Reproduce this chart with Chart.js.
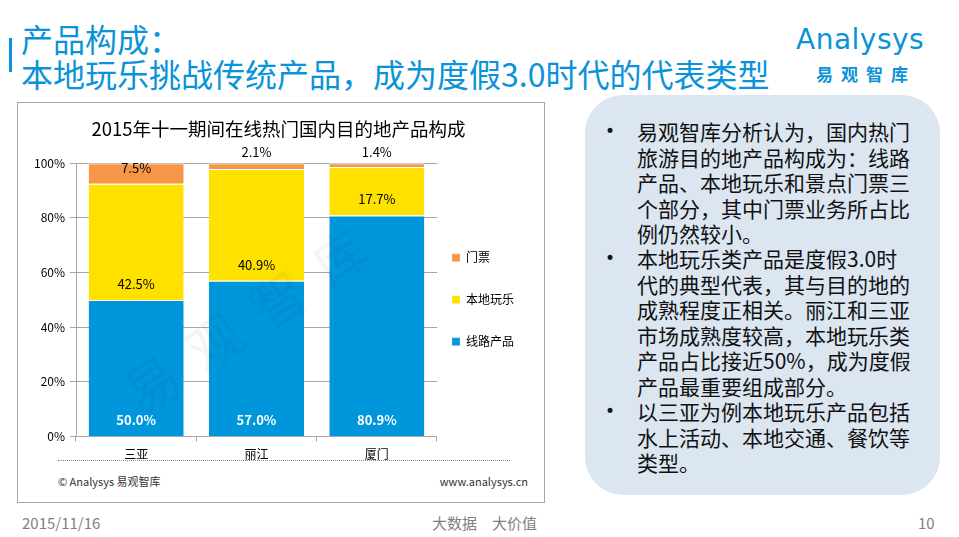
<!DOCTYPE html>
<html>
<head>
<meta charset="utf-8">
<script src="https://cdn.jsdelivr.net/npm/chart.js@4/dist/chart.umd.min.js"></script>
<style>
  body { margin: 0; width: 959px; height: 537px; background: #fff; position: relative; overflow: hidden;
         font-family: "Noto Sans CJK SC", "Noto Sans", sans-serif; }
  .abs { position: absolute; white-space: nowrap; }
  #bar { left: 9px; top: 38px; width: 3px; height: 34px; background: #0a93d8; }
  .head { left: 21px; color: #0a93d8; font-size: 32px; line-height: 34px; }
  #frame { left: 17px; top: 102px; width: 526px; height: 399px; border: 1px solid #a6a6a6; background: #fff; }
  #chartBox { position: absolute; left: 0; top: 0; width: 526px; height: 367px; }
  #dots { left: 40px; top: 357px; width: 452px; border-top: 1px dotted #8c8c8c; }
  .foot { font-size: 11px; color: #333; top: 370px; }
  #panel { left: 585px; top: 95px; width: 355px; height: 400px; border-radius: 38px; background: #dce6f1; }
  .bul { font-size: 21px; line-height: 25.5px; color: #111; }
  .dot { font-size: 17px; line-height: 25.5px; color: #111; font-family: "DejaVu Sans", sans-serif; }
  .pf { font-size: 15px; color: #7f7f7f; top: 512px; }
</style>
</head>
<body>
<div id="bar" class="abs"></div>
<div class="abs head" style="top:21px">产品构成：</div>
<div class="abs head" style="top:56px">本地玩乐挑战传统产品，成为度假3.0时代的代表类型</div>

<div class="abs" style="left:796px;top:23px;color:#0a93d8;font-size:28px;letter-spacing:0.5px;font-family:'DejaVu Sans',sans-serif">Analysys</div>
<div class="abs" style="left:816px;top:61px;color:#0a93d8;font-size:17px;font-weight:bold;letter-spacing:8px">易观智库</div>

<div id="frame" class="abs">
  <div id="chartBox"><canvas id="chart"></canvas></div>
  <div class="abs" style="left:88px;top:262px;font-size:54px;color:rgba(0,0,0,0.045);transform:rotate(-34deg);transform-origin:left top;letter-spacing:22px">易观智库</div>
  <div id="dots" class="abs"></div>
  <div class="abs foot" style="left:40px">© Analysys 易观智库</div>
  <div class="abs foot" style="right:16px">www.analysys.cn</div>
</div>

<div id="panel" class="abs"></div>
<div class="abs dot" style="left:605px;top:119px">•</div>
<div class="abs bul" style="left:637px;top:119px">易观智库分析认为，国内热门<br>旅游目的地产品构成为：线路<br>产品、本地玩乐和景点门票三<br>个部分，其中门票业务所占比<br>例仍然较小。</div>
<div class="abs dot" style="left:605px;top:246px">•</div>
<div class="abs bul" style="left:637px;top:246px">本地玩乐类产品是度假3.0时<br>代的典型代表，其与目的地的<br>成熟程度正相关。丽江和三亚<br>市场成熟度较高，本地玩乐类<br>产品占比接近50%，成为度假<br>产品最重要组成部分。</div>
<div class="abs dot" style="left:605px;top:399px">•</div>
<div class="abs bul" style="left:637px;top:399px">以三亚为例本地玩乐产品包括<br>水上活动、本地交通、餐饮等<br>类型。</div>

<div class="abs pf" style="left:22px">2015/11/16</div>
<div class="abs pf" style="left:432px">大数据　大价值</div>
<div class="abs pf" style="left:918px">10</div>

<script>
// Data
const categories = ['三亚', '丽江', '厦门'];
const routeProducts = [50.0, 57.0, 80.9];   // 线路产品
const localFun = [42.5, 40.9, 17.7];        // 本地玩乐
const tickets = [7.5, 2.1, 1.4];            // 门票
const yTicks = [0, 20, 40, 60, 80, 100];

const chartTitle = '2015年十一期间在线热门国内目的地产品构成';
const fontFamily = '"Noto Sans CJK SC", "Noto Sans", sans-serif';

// Draw value labels near the base of each segment
const segmentLabels = {
    id: 'segmentLabels',
    afterDatasetsDraw(chart) {
        const ctx = chart.ctx;
        ctx.save();
        ctx.textAlign = 'center';
        ctx.textBaseline = 'middle';
        chart.data.datasets.forEach((ds, di) => {
            const meta = chart.getDatasetMeta(di);
            meta.data.forEach((bar, i) => {
                const h = bar.base - bar.y;
                const y = h > 15 ? bar.base - 16 : bar.y - 11;
                ctx.fillStyle = di === 0 ? '#fff' : '#000';
                ctx.font = (di === 0 ? 'bold ' : '') + '13px ' + fontFamily;
                ctx.fillText(ds.data[i].toFixed(1) + '%', bar.x, y);
            });
        });
        ctx.restore();
    }
};

// Pull the legend a little closer to the plot
const legendNudge = {
    id: 'legendNudge',
    afterLayout(chart) {
        chart.legend.left -= 15;
        chart.legend.right -= 15;
    }
};

new Chart(document.getElementById('chart'), {
    type: 'bar',
    data: {
        labels: categories,
        datasets: [
            { label: '线路产品', data: routeProducts, backgroundColor: '#0096db' },
            { label: '本地玩乐', data: localFun, backgroundColor: '#ffe100' },
            { label: '门票', data: tickets, backgroundColor: '#f79646' }
        ]
    },
    options: {
        responsive: true,
        maintainAspectRatio: false,
        animation: false,
        layout: { padding: { left: 0, right: 5, top: 0, bottom: 2 } },
        datasets: {
            bar: {
                barPercentage: 0.79,
                categoryPercentage: 1,
                borderColor: '#fff',
                borderWidth: { top: 1, bottom: 0, left: 0, right: 0 },
                borderSkipped: false
            }
        },
        plugins: {
            title: {
                display: true,
                text: chartTitle,
                color: '#000',
                font: { family: fontFamily, size: 18.5, weight: 'normal' },
                padding: { top: 15, bottom: 23 }
            },
            legend: {
                position: 'right',
                reverse: true,
                title: {
                    display: true,
                    text: ' ',
                    font: { family: fontFamily, size: 12 },
                    padding: { top: 7, bottom: 7 }
                },
                labels: {
                    boxWidth: 8,
                    boxHeight: 8,
                    padding: 30,
                    color: '#000',
                    font: { family: fontFamily, size: 12 }
                }
            },
            tooltip: { enabled: false }
        },
        scales: {
            x: {
                stacked: true,
                grid: { display: true, drawOnChartArea: false, offset: true, color: '#a6a6a6', tickLength: 5 },
                border: { color: '#a6a6a6' },
                ticks: { color: '#000', font: { family: fontFamily, size: 12 }, padding: 6 }
            },
            y: {
                stacked: true,
                min: 0,
                max: 100,
                afterBuildTicks: axis => { axis.ticks = yTicks.map(v => ({ value: v })); },
                afterFit: axis => { axis.width = 58; },
                grid: { color: '#a6a6a6', tickLength: 6 },
                border: { color: '#a6a6a6' },
                ticks: {
                    color: '#000',
                    font: { family: fontFamily, size: 12 },
                    padding: 5,
                    callback: v => v + '%'
                }
            }
        }
    },
    plugins: [segmentLabels, legendNudge]
});
</script>
</body>
</html>
